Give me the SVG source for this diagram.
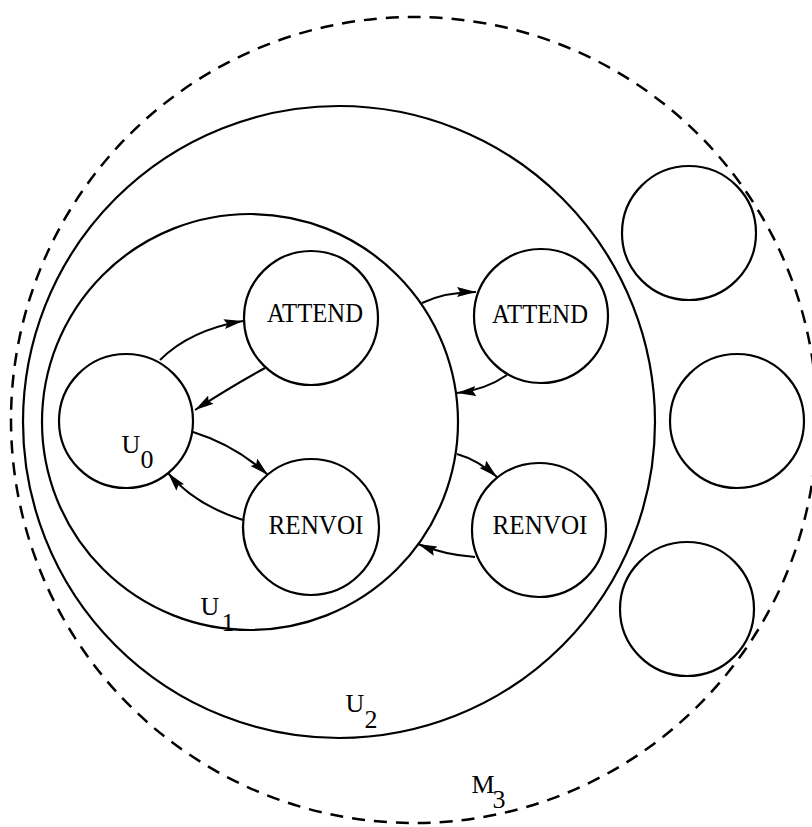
<svg xmlns="http://www.w3.org/2000/svg" width="812" height="827" viewBox="0 0 812 827">
<style>
.c{fill:none;stroke:#000;stroke-width:2.2}
.d{fill:none;stroke:#000;stroke-width:2.5;stroke-dasharray:13 9}
.e{fill:none;stroke:#000;stroke-width:2}
.t{font-family:"Liberation Serif","DejaVu Serif",serif;font-size:26px;fill:#000;text-anchor:middle}
.n{font-size:27px}
</style>
<defs>
<marker id="ah" markerUnits="userSpaceOnUse" markerWidth="22" markerHeight="12" refX="19" refY="5" orient="auto">
<path d="M0,0 L19,5 L0,10 L3,5 z" fill="#000"/>
</marker>
</defs>
<rect width="812" height="827" fill="#fff"/>
<g id="M3">
<circle class="d" cx="414" cy="420" r="403"/>
<text class="t" x="483" y="793">M<tspan x="499" y="808">3</tspan></text>
</g>
<g id="U2">
<circle class="c" cx="339" cy="422" r="316"/>
<text class="t" x="355" y="712">U<tspan x="371" y="728">2</tspan></text>
</g>
<g id="U1">
<circle class="c" cx="250" cy="422" r="208"/>
<text class="t" x="210" y="615">U<tspan x="228" y="631">1</tspan></text>
</g>
<g id="U0">
<circle class="c" cx="126" cy="421" r="67"/>
<text class="t" x="131" y="453">U<tspan x="147" y="468">0</tspan></text>
</g>
<g id="attend1">
<circle class="c" cx="311" cy="318" r="67"/>
<text class="t n" x="315" y="322" textLength="96" lengthAdjust="spacingAndGlyphs">ATTEND</text>
</g>
<g id="renvoi1">
<circle class="c" cx="311" cy="527" r="68"/>
<text class="t n" x="316" y="534" textLength="95" lengthAdjust="spacingAndGlyphs">RENVOI</text>
</g>
<g id="attend2">
<circle class="c" cx="541" cy="316" r="67"/>
<text class="t n" x="540" y="323" textLength="96" lengthAdjust="spacingAndGlyphs">ATTEND</text>
</g>
<g id="renvoi2">
<circle class="c" cx="539" cy="530" r="67"/>
<text class="t n" x="540" y="534" textLength="95" lengthAdjust="spacingAndGlyphs">RENVOI</text>
</g>
<g id="m3a"><circle class="c" cx="689" cy="233" r="67"/></g>
<g id="m3b"><circle class="c" cx="737" cy="421" r="67"/></g>
<g id="m3c"><circle class="c" cx="687" cy="609" r="67"/></g>
<g id="connectors">
<path class="e" d="M160,360 Q190,330 243,321" marker-end="url(#ah)"/>
<path class="e" d="M265,368 Q232,386 195,410" marker-end="url(#ah)"/>
<path class="e" d="M193,432 Q235,445 268,475" marker-end="url(#ah)"/>
<path class="e" d="M243,520 Q195,505 168,473" marker-end="url(#ah)"/>
<path class="e" d="M422,303 Q445,292 476,292" marker-end="url(#ah)"/>
<path class="e" d="M507,375 Q485,390 457,393" marker-end="url(#ah)"/>
<path class="e" d="M457,454 Q478,460 497,477" marker-end="url(#ah)"/>
<path class="e" d="M475,557 Q445,555 418,544" marker-end="url(#ah)"/>
</g>
</svg>
